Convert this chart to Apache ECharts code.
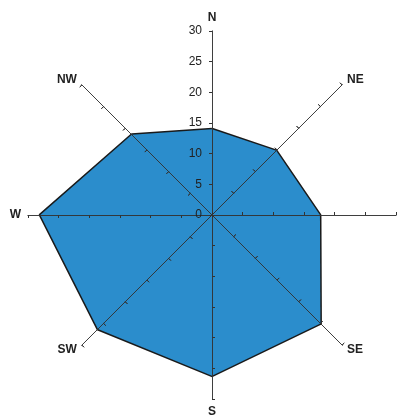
<!DOCTYPE html>
<html><head><meta charset="utf-8">
<script src="https://cdn.jsdelivr.net/npm/echarts@6/dist/echarts.min.js"></script>
<style>html,body{margin:0;padding:0;background:#fff}#c{width:403px;height:419px}</style>
</head><body><div id="c"></div>
<script>
// counterclockwise from top (ECharts radar order)
const directions = ['N', 'NW', 'W', 'SW', 'S', 'SE', 'E', 'NE'];
const directionLabels = ['N', 'NW', 'W', 'SW', 'S', 'SE', '', 'NE'];
const frequency = [14, 18.5, 28, 26.3, 26.2, 25, 17.6, 14.8];
const axisMax = 30;

const chart = echarts.init(document.getElementById('c'));
function indicators(withLabels) {
  return directions.map((d, i) => {
    const o = { name: directionLabels[i], min: 0, max: axisMax };
    if (withLabels && i === 0) o.axisLabel = { show: true };
    return o;
  });
}
function radarCfg(inside, withLabels) {
  return {
    center: [212, 215],
    radius: 184,
    startAngle: 90,
    splitNumber: 6,
    z: 3,
    indicator: indicators(withLabels),
    shape: 'polygon',
    axisName: withLabels ? {
      color: '#222', fontFamily: 'Liberation Sans', fontWeight: 'bold', fontSize: 12
    } : { show: false },
    nameGap: 7,
    splitLine: { show: false },
    splitArea: { show: false },
    axisLine: { show: true, lineStyle: { color: '#333', width: 1, opacity: 0.75 } },
    axisTick: { show: true, inside: inside, length: 3, lineStyle: { color: '#333', width: 1 } },
    axisLabel: {
      show: false, color: '#222', fontFamily: 'Liberation Sans', fontSize: 12, margin: 10
    }
  };
}
chart.setOption({
  animation: false,
  radar: [radarCfg(false, true), radarCfg(true, false)],
  series: [{
    type: 'radar',
    radarIndex: 0,
    symbol: 'none',
    z: 2,
    lineStyle: { color: '#1a1a1a', width: 3 },
    areaStyle: { color: '#2b8dcc', opacity: 1 },
    data: [{
      value: frequency,
      lineStyle: { color: '#1a1a1a', width: 3 },
      areaStyle: { color: '#2b8dcc', opacity: 1 }
    }]
  }]
});
</script></body></html>
